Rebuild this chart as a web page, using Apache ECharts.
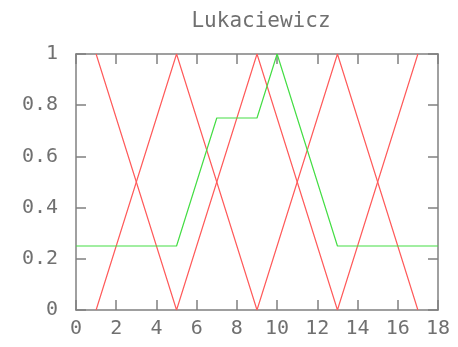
<!DOCTYPE html>
<html><head><meta charset="utf-8">
<script src="https://cdn.jsdelivr.net/npm/echarts@6/dist/echarts.min.js"></script>
<style>html,body{margin:0;padding:0;background:#fff}#c{width:458px;height:347px}</style>
</head><body><div id="c"></div>
<script>
const title = 'Lukaciewicz';
const redAX = [1, 5, 9, 13, 17];
const redAY = [0, 1, 0, 1, 0];
const redBX = [1, 5, 9, 13, 17];
const redBY = [1, 0, 1, 0, 1];
const greenX = [0, 5, 7, 9, 10, 13, 18];
const greenY = [0.25, 0.25, 0.75, 0.75, 1, 0.25, 0.25];

const zip = (xs, ys) => xs.map((x, i) => [x, ys[i]]);
const font = 'DejaVu Sans Mono';
const gray = '#808080';
const txt = '#707070';
const axisLine = {show: true, onZero: false, lineStyle: {color: gray, width: 1.5}};
const tick = {show: true, inside: true, length: 10, lineStyle: {color: gray, width: 1.5}};

const chart = echarts.init(document.getElementById('c'));
chart.setOption({
  animation: false,
  title: {text: title, left: 256, top: 6, textAlign: 'center',
    textStyle: {fontFamily: font, fontSize: 21, fontWeight: 'normal', color: txt}},
  grid: {left: 76, right: 20, top: 54, bottom: 37, containLabel: false},
  xAxis: [
    {type: 'value', position: 'bottom', min: 0, max: 18, interval: 2,
     axisLine, axisTick: tick, splitLine: {show: false},
     axisLabel: {fontFamily: font, fontSize: 20, color: txt, margin: 9}},
    {type: 'value', position: 'top', min: 0, max: 18, interval: 2,
     axisLine, axisTick: tick, splitLine: {show: false}, axisLabel: {show: false}}
  ],
  yAxis: [
    {type: 'value', position: 'left', min: 0, max: 1, interval: 0.2,
     axisLine, axisTick: tick, splitLine: {show: false},
     axisLabel: {fontFamily: font, fontSize: 20, color: txt, margin: 18,
       formatter: v => String(Math.round(v * 10) / 10)}},
    {type: 'value', position: 'right', min: 0, max: 1, interval: 0.2,
     axisLine, axisTick: tick, splitLine: {show: false}, axisLabel: {show: false}}
  ],
  series: [
    {type: 'line', data: zip(redAX, redAY), showSymbol: false, lineStyle: {color: '#ff5a5a', width: 1.2}},
    {type: 'line', data: zip(redBX, redBY), showSymbol: false, lineStyle: {color: '#ff5a5a', width: 1.2}},
    {type: 'line', data: zip(greenX, greenY), showSymbol: false, lineStyle: {color: '#44dd44', width: 1.2}}
  ]
});
</script></body></html>
